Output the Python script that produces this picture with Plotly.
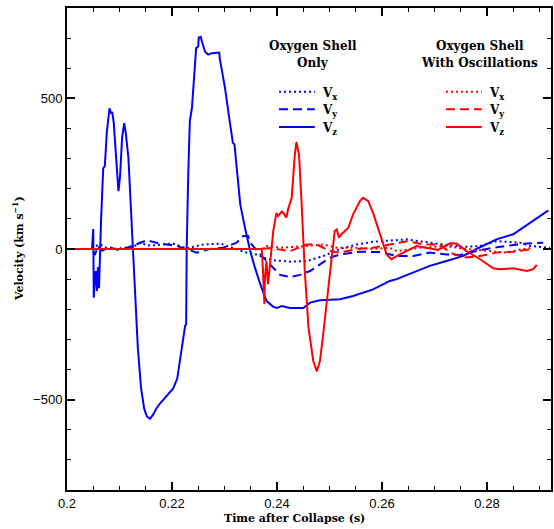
import plotly.graph_objects as go

# ---------------- data ----------------
# Oxygen shell only (blue)
bz_t = [0.2000, 0.20476, 0.2050, 0.2051, 0.2053, 0.2055, 0.2057, 0.2059, 0.2061, 0.2063, 0.2065,
        0.2069, 0.2072, 0.2076, 0.2081, 0.2084, 0.2086, 0.2089, 0.2093, 0.2098, 0.2101, 0.2105,
        0.2109, 0.2112, 0.2117, 0.2121, 0.2125, 0.2130, 0.2135, 0.2141, 0.2147, 0.2152, 0.2158,
        0.2164, 0.2170, 0.2177, 0.2189, 0.2202, 0.2210, 0.2215, 0.2221, 0.2225, 0.2227, 0.2228,
        0.2231, 0.2234, 0.2238, 0.2241, 0.2246, 0.2250, 0.2251, 0.2255, 0.2257, 0.2263, 0.2269,
        0.2276, 0.2290, 0.2291, 0.2301, 0.2310, 0.2316, 0.2319, 0.2330, 0.2339, 0.2349, 0.2358,
        0.2368, 0.2380, 0.2393, 0.2400, 0.2409, 0.2425, 0.2450, 0.2463, 0.2482, 0.2520, 0.2545,
        0.2583, 0.2615, 0.2628, 0.2660, 0.2691, 0.2723, 0.2755, 0.2780, 0.2818, 0.2850, 0.2882,
        0.2917]
bz_v = [0, 0, 66, -162, -100, -73, -139, -60, -130, 36, 100,
        268, 275, 390, 467, 450, 455, 420, 300, 192, 240, 370,
        418, 385, 302, 160, 0, -160, -330, -460, -530, -555, -564,
        -550, -530, -513, -490, -464, -430, -371, -310, -255, -250, 0,
        250, 424, 468, 556, 667, 672, 702, 704, 689, 655, 645,
        650, 652, 633, 534, 424, 352, 348, 149, 71, -7, -62,
        -116, -172, -192, -196, -189, -196, -196, -178, -170, -167, -156,
        -134, -106, -100, -78, -56, -40, -23, 0, 32, 49, 87,
        128]

by_t = [0.2000, 0.2048, 0.2053, 0.2059, 0.2067, 0.2082, 0.2101, 0.2116, 0.2133, 0.2152, 0.2177,
        0.2209, 0.2234, 0.2247, 0.2272, 0.2298, 0.2323, 0.2336, 0.2345, 0.2349, 0.2368, 0.2387,
        0.2406, 0.2425, 0.2444, 0.2463, 0.2482, 0.2501, 0.2520, 0.2558, 0.2596, 0.2628, 0.2660,
        0.2691, 0.2723, 0.2749, 0.2774, 0.2812, 0.2850, 0.2876, 0.2907]
by_v = [0, 0, -20, 10, -5, 5, -5, 5, 15, 29, 18,
        10, -4, -12, 0, 4, 21, 43, 43, 21, -18, -51,
        -86, -93, -86, -73, -51, -29, -18, -9, -10, -23, -23,
        -12, -18, -20, -9, 4, 13, 18, 21]

bx_t = [0.2000, 0.2048, 0.2055, 0.2063, 0.2074, 0.2088, 0.2105, 0.2126, 0.2139, 0.2154, 0.2171,
        0.2202, 0.2228, 0.2260, 0.2291, 0.2317, 0.2342, 0.2361, 0.2377, 0.2393, 0.2425, 0.2457,
        0.2489, 0.2520, 0.2552, 0.2583, 0.2615, 0.2647, 0.2691, 0.2723, 0.2755, 0.2787, 0.2818,
        0.2863, 0.2882, 0.2920]
bx_v = [0, 0, 10, 15, 5, 0, 3, 7, 21, 12, 13,
        18, 2, 15, 18, 4, -12, -18, -30, -37, -42, -40,
        -23, 0, 15, 24, 29, 32, 21, 15, 7, 10, 26,
        21, 10, 4]

# Oxygen shell with oscillations (red)
rz_t = [0.2000, 0.2371, 0.2373, 0.2376, 0.2377, 0.2380, 0.2383, 0.2387, 0.2393, 0.2399, 0.2402,
        0.2409, 0.2412, 0.2418, 0.2421, 0.2428, 0.2431, 0.2434, 0.2437, 0.2442, 0.2447, 0.2453,
        0.2460, 0.2469, 0.2476, 0.2482, 0.2488, 0.2498, 0.2507, 0.2510, 0.2514, 0.2518, 0.2523,
        0.2536, 0.2545, 0.2558, 0.2564, 0.2574, 0.2583, 0.2596, 0.2609, 0.2618, 0.2634, 0.2666,
        0.2685, 0.2707, 0.2730, 0.2742, 0.2761, 0.2787, 0.2812, 0.2825, 0.2850, 0.2876, 0.2888,
        0.2895]
rz_v = [0, 0, -60, -183, -100, -40, -117, -51, 60, 120, 109,
        124, 120, 104, 131, 170, 247, 313, 355, 313, 148, -73,
        -260, -371, -406, -371, -283, -128, 4, 60, 65, 38, 49,
        71, 115, 159, 170, 159, 120, 49, -18, -34, -18, 10,
        4, -3, 19, 18, -7, -34, -64, -67, -64, -73, -67,
        -53]

ry_t = [0.2000, 0.2371, 0.2387, 0.2425, 0.2457, 0.2476, 0.2501, 0.2520, 0.2552, 0.2583, 0.2615,
        0.2647, 0.2679, 0.2710, 0.2730, 0.2755, 0.2787, 0.2818, 0.2850, 0.2888]
ry_v = [0, 0, 3, -7, 15, 15, -7, -12, 0, 4, 15,
        26, 15, 15, -12, -29, -23, -12, -9, 0]

rx_t = [0.2000, 0.2371, 0.2380, 0.2406, 0.2457, 0.2489, 0.2514, 0.2552, 0.2583, 0.2615, 0.2628,
        0.2672, 0.2723, 0.2761, 0.2806, 0.2837, 0.2869, 0.2888]
rx_v = [0, 0, 10, 4, 10, 15, 4, 4, 0, 4, -7,
        4, 10, 0, -7, -12, 0, 4]

x_ticks = [0.2, 0.22, 0.24, 0.26, 0.28]
x_ticklabels = ["0.2", "0.22", "0.24", "0.26", "0.28"]
y_ticks = [-500, 0, 500]

BLUE = "#0000ff"
RED = "#ff0000"
DOT = "2px,3px"
DASH = "9px,5px"

fig = go.Figure()
series = [
    (bx_t, bx_v, BLUE, DOT), (by_t, by_v, BLUE, DASH), (bz_t, bz_v, BLUE, "solid"),
    (rx_t, rx_v, RED, DOT), (ry_t, ry_v, RED, DASH), (rz_t, rz_v, RED, "solid"),
]
for t, v, c, d in series:
    fig.add_trace(go.Scatter(x=t, y=v, mode="lines", showlegend=False,
                             line=dict(color=c, width=2, dash=d)))

# ---------------- legend (drawn manually) ----------------
TFONT = dict(family="DejaVu Serif", size=12, color="black")
for xc, lines in [(0.508, ["Oxygen Shell", "Only"]), (0.853, ["Oxygen Shell", "With Oscillations"])]:
    for yy, txt in zip([0.922, 0.885], lines):
        fig.add_annotation(x=xc, y=yy, xref="paper", yref="paper", text=f"<b>{txt}</b>",
                           showarrow=False, font=TFONT, xanchor="center", yanchor="middle")
rows = [(0.826, "x", DOT), (0.790, "y", DASH), (0.753, "z", "solid")]
for (x0, x1, c) in [(0.438, 0.512, BLUE), (0.783, 0.857, RED)]:
    for yy, sub, d in rows:
        fig.add_shape(type="line", xref="paper", yref="paper", x0=x0, x1=x1, y0=yy, y1=yy,
                      line=dict(color=c, width=2, dash=d))
        fig.add_annotation(x=x1 + 0.01, y=yy - 0.004, xref="paper", yref="paper",
                           text=f"<b>V<sub>{sub}</sub></b>", showarrow=False, xanchor="left",
                           yanchor="middle", font=TFONT)

# axis titles
fig.add_annotation(x=0.471, y=-0.060, xref="paper", yref="paper", text="<b>Time after Collapse (s)</b>",
                   showarrow=False, font=dict(family="DejaVu Serif", size=11, color="black"),
                   xanchor="center", yanchor="middle")
fig.add_annotation(x=-0.101, y=0.5, xref="paper", yref="paper", text="<b>Velocity (km s<sup>−1</sup>)</b>",
                   showarrow=False, textangle=-90, font=dict(family="DejaVu Serif", size=11, color="black"),
                   xanchor="center", yanchor="middle")

axis_common = dict(showgrid=False, zeroline=False, showline=True, linecolor="black", linewidth=2,
                   mirror="allticks", ticks="inside", ticklen=8, tickwidth=1.5, tickcolor="black",
                   automargin=False,
                   tickfont=dict(family="Liberation Sans", size=13, color="black"))
fig.update_xaxes(range=[0.2, 0.2922], tickvals=x_ticks, ticktext=x_ticklabels,
                 minor=dict(dtick=0.005, tick0=0.2, ticks="inside", ticklen=4, tickwidth=1.2,
                            tickcolor="black"),
                 **axis_common)
fig.update_yaxes(range=[-800, 800], tickvals=y_ticks,
                 minor=dict(dtick=100, tick0=0, ticks="inside", ticklen=4, tickwidth=1.2,
                            tickcolor="black"),
                 **axis_common)

fig.update_layout(width=554, height=529, margin=dict(l=67, r=3, t=8, b=39),
                  plot_bgcolor="white", paper_bgcolor="white")

fig.write_html("out.html", config={"displayModeBar": False},
               post_script="document.body.style.margin='0';document.body.style.overflow='hidden';")
